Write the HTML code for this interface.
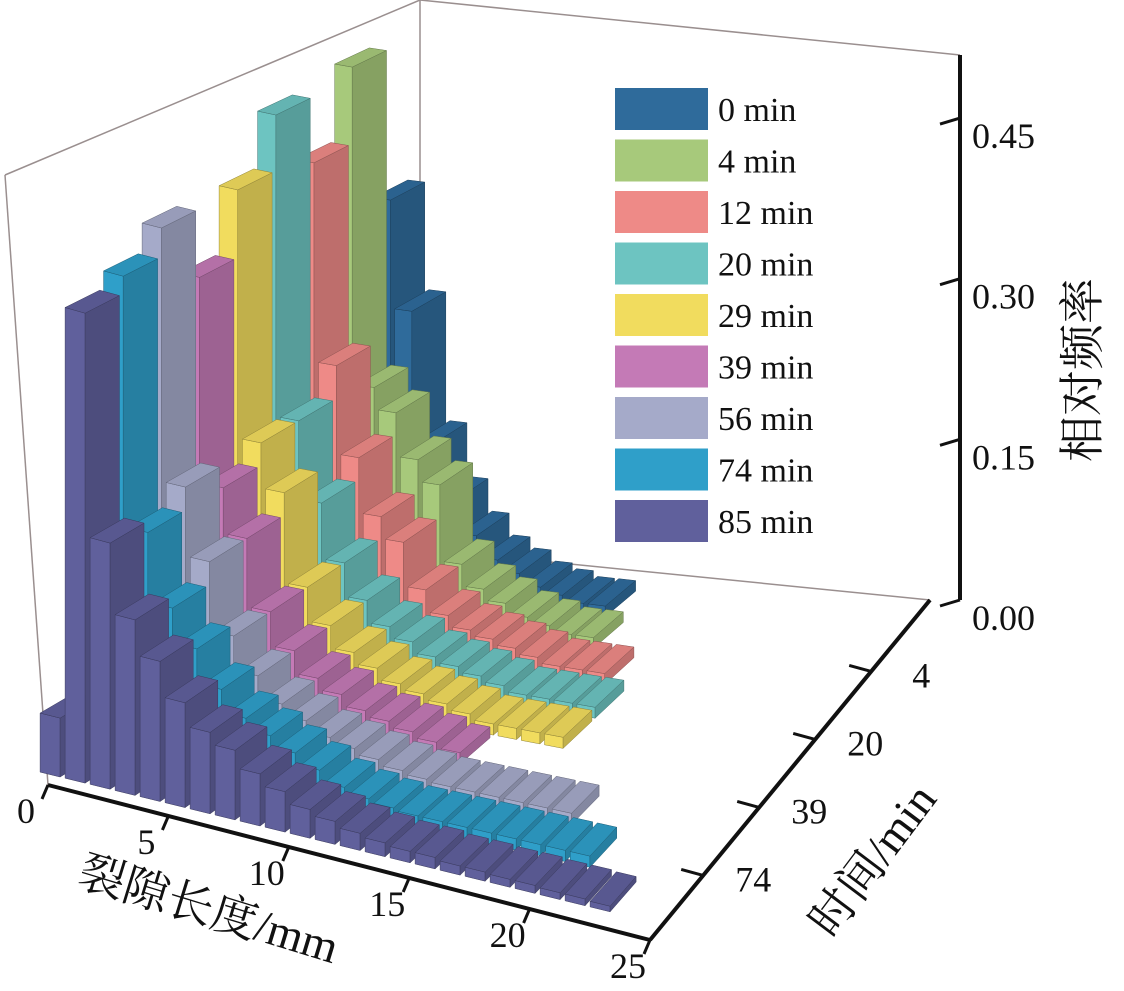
<!DOCTYPE html>
<html><head><meta charset="utf-8">
<style>
html,body{margin:0;padding:0;background:#fff;}
svg{display:block;font-family:"Liberation Serif","Noto Serif CJK SC",serif;}
</style></head>
<body>
<svg id="chart" width="1124" height="991" viewBox="0 0 1124 991" xmlns="http://www.w3.org/2000/svg">
  <g stroke="#9a8f8f" stroke-width="1.5" fill="none">
    <line x1="48" y1="785" x2="5" y2="175"/>
    <line x1="5" y1="175" x2="420" y2="0"/>
    <line x1="420" y1="0" x2="420" y2="548"/>
    <line x1="420" y1="0" x2="960" y2="55"/>
    <line x1="410" y1="548" x2="930" y2="600"/>
  </g>
  <g id="bars"></g>
  <g id="axes"></g>
  <g id="legend"></g>
</svg>
<script>
const seriesNames = ["0 min","4 min","12 min","20 min","29 min","39 min","56 min","74 min","85 min"];
const seriesColors = ["#2f6b9b","#a7c97b","#ee8a87","#6dc4c1","#f1dc5e","#c47ab6","#a5aac9","#2f9fc9","#60609c"];
const r0  = [0.02,0.36,0.26,0.14,0.09,0.06,0.04,0.03,0.02,0.015,0.01,0.01];
const r4  = [0.02,0.50,0.21,0.19,0.15,0.13,0.06,0.04,0.03,0.02,0.015,0.01,0.01];
const r12 = [0.02,0.43,0.25,0.17,0.12,0.10,0.06,0.04,0.03,0.025,0.02,0.015,0.01,0.01,0.01];
const r20 = [0.02,0.49,0.22,0.15,0.10,0.07,0.05,0.04,0.03,0.025,0.02,0.015,0.01,0.01,0.01,0.01];
const r29 = [0.03,0.44,0.22,0.18,0.10,0.07,0.05,0.04,0.03,0.025,0.02,0.015,0.01,0.01,0.01,0.01];
const r39 = [0.03,0.38,0.20,0.16,0.10,0.07,0.05,0.04,0.03,0.025,0.02,0.015,0.01];
const r56 = [0.04,0.44,0.22,0.16,0.10,0.07,0.05,0.04,0.03,0.025,0.02,0.015,0.012,0.01,0.01,0.01,0.01,0.01,0.01];
const r74 = [0.04,0.415,0.20,0.14,0.11,0.08,0.06,0.05,0.04,0.03,0.02,0.015,0.012,0.01,0.01,0.01,0.01,0.01,0.01,0.01,0.01];
const r85 = [0.05,0.40,0.21,0.15,0.12,0.09,0.07,0.06,0.045,0.035,0.025,0.02,0.015,0.012,0.01,0.01,0.008,0.008,0.007,0.007,0.006,0.006,0.005];
const rows = [r0,r4,r12,r20,r29,r39,r56,r74,r85];
const xTicks = [0,5,10,15,20,25];
const zTicks = [0,0.15,0.30,0.45];
const zTickLabels = ["0.00","0.15","0.30","0.45"];
const tTickLabels = ["4","20","39","74"];
const tTickIndex = [1,3,5,7];

const NS="http://www.w3.org/2000/svg";
const FL=[48,785],FR=[650,940],BR=[930,600],BL=[410,548];
const BFL=[20,782];
const SC={FL:1185,FR:1120,BL:1065,BR:1045};
const XMAX=25;
function rowV(k){return 0.89-0.1*k;}
function proj(x,v,z,fl){
  const A=fl||FL;
  const u=x/XMAX;
  const bx=(1-u)*(1-v)*A[0]+u*(1-v)*FR[0]+u*v*BR[0]+(1-u)*v*BL[0];
  const by=(1-u)*(1-v)*A[1]+u*(1-v)*FR[1]+u*v*BR[1]+(1-u)*v*BL[1];
  const s=(1-u)*(1-v)*SC.FL+u*(1-v)*SC.FR+u*v*SC.BR+(1-u)*v*SC.BL;
  return [bx,by-z*s];
}
function bp(x,v,z){return proj(x,v,z,BFL);}
function shade(hex,f){
  const n=parseInt(hex.slice(1),16);
  let r=(n>>16)&255,g=(n>>8)&255,b=n&255;
  const c=x=>Math.max(0,Math.min(255,Math.round(f>1?x+(255-x)*(f-1):x*f)));
  return "rgb("+c(r)+","+c(g)+","+c(b)+")";
}
function poly(parent,pts,fill,stroke){
  const p=document.createElementNS(NS,"polygon");
  p.setAttribute("points",pts.map(q=>q[0].toFixed(1)+","+q[1].toFixed(1)).join(" "));
  p.setAttribute("fill",fill);
  p.setAttribute("stroke",stroke);
  p.setAttribute("stroke-width","0.5");
  parent.appendChild(p);
  return p;
}
const barsG=document.getElementById("bars");
rows.forEach((vals,k)=>{
  const vc=rowV(k),v0=vc-0.045,v1=vc+0.045;
  const col=seriesColors[k];
  const edge=shade(col,0.6);
  const rowG=document.createElementNS(NS,"g");
  
  
  barsG.appendChild(rowG);
  vals.forEach((h,i)=>{
    const x0=i+0.1,x1=i+0.9;
    const g=document.createElementNS(NS,"g");
    
    
    rowG.appendChild(g);
    poly(g,[bp(x0,v0,0),bp(x1,v0,0),bp(x1,v0,h),bp(x0,v0,h)],shade(col,1.0),edge);
    poly(g,[bp(x1,v0,0),bp(x1,v1,0),bp(x1,v1,h),bp(x1,v0,h)],shade(col,0.8),edge);
    poly(g,[bp(x0,v0,h),bp(x1,v0,h),bp(x1,v1,h),bp(x0,v1,h)],shade(col,0.92),edge);
  });
});

const axesG=document.getElementById("axes");
function line(x1,y1,x2,y2,w,name){
  const l=document.createElementNS(NS,"line");
  l.setAttribute("x1",x1);l.setAttribute("y1",y1);l.setAttribute("x2",x2);l.setAttribute("y2",y2);
  l.setAttribute("stroke","#111");l.setAttribute("stroke-width",w);
  
  
  axesG.appendChild(l);
}
function text(x,y,s,size,name,rot,anchor){
  const t=document.createElementNS(NS,"text");
  t.setAttribute("x",x);t.setAttribute("y",y);t.setAttribute("font-size",size);
  t.setAttribute("fill","#111");
  if(anchor)t.setAttribute("text-anchor",anchor);
  if(rot)t.setAttribute("transform","rotate("+rot+" "+x+" "+y+")");
  t.textContent=s;
  
  
  axesG.appendChild(t);
}
// x axis
line(FL[0],FL[1],FR[0],FR[1],4,"x-axis-line");
xTicks.forEach(xt=>{
  const p=proj(xt,0,0);
  line(p[0],p[1],p[0]-6,p[1]+14,3,"x-tick");
  text(p[0]-22,p[1]+38,String(xt),36,"x-tick-label",0,"middle");
});
text(76,885,"裂隙长度/mm",46,"x-axis-title",17,"start");
// depth axis
line(FR[0],FR[1],BR[0],BR[1],4,"time-axis-line");
tTickIndex.forEach((k,j)=>{
  const v=rowV(k);
  const p=[FR[0]+(BR[0]-FR[0])*v,FR[1]+(BR[1]-FR[1])*v];
  line(p[0],p[1],p[0]-22,p[1]-6,3,"time-tick");
  text(p[0]+50,p[1]+16,tTickLabels[j],36,"time-tick-label",0,"middle");
});
text(832,940,"时间/min",46,"time-axis-title",-53,"start");
// vertical axis
line(960,55,960,600,4,"z-axis-line");
zTicks.forEach((z,j)=>{
  const y=600-z*1071;
  line(960,y,940,y+6,3,"z-tick");
  text(972,y+30,zTickLabels[j],36,"z-tick-label",0,"start");
});
text(1098,462,"相对频率",46,"z-axis-title",-90,"start");

// legend
const legG=document.getElementById("legend");
seriesNames.forEach((n,k)=>{
  const y=88+k*51.5;
  const r=document.createElementNS(NS,"rect");
  r.setAttribute("x",615);r.setAttribute("y",y);r.setAttribute("width",93);r.setAttribute("height",42);
  r.setAttribute("fill",seriesColors[k]);
  
  
  legG.appendChild(r);
  const t=document.createElementNS(NS,"text");
  t.setAttribute("x",718);t.setAttribute("y",y+33);t.setAttribute("font-size",34);t.setAttribute("fill","#111");
  t.textContent=n;
  
  
  legG.appendChild(t);
});
</script>
</body></html>
